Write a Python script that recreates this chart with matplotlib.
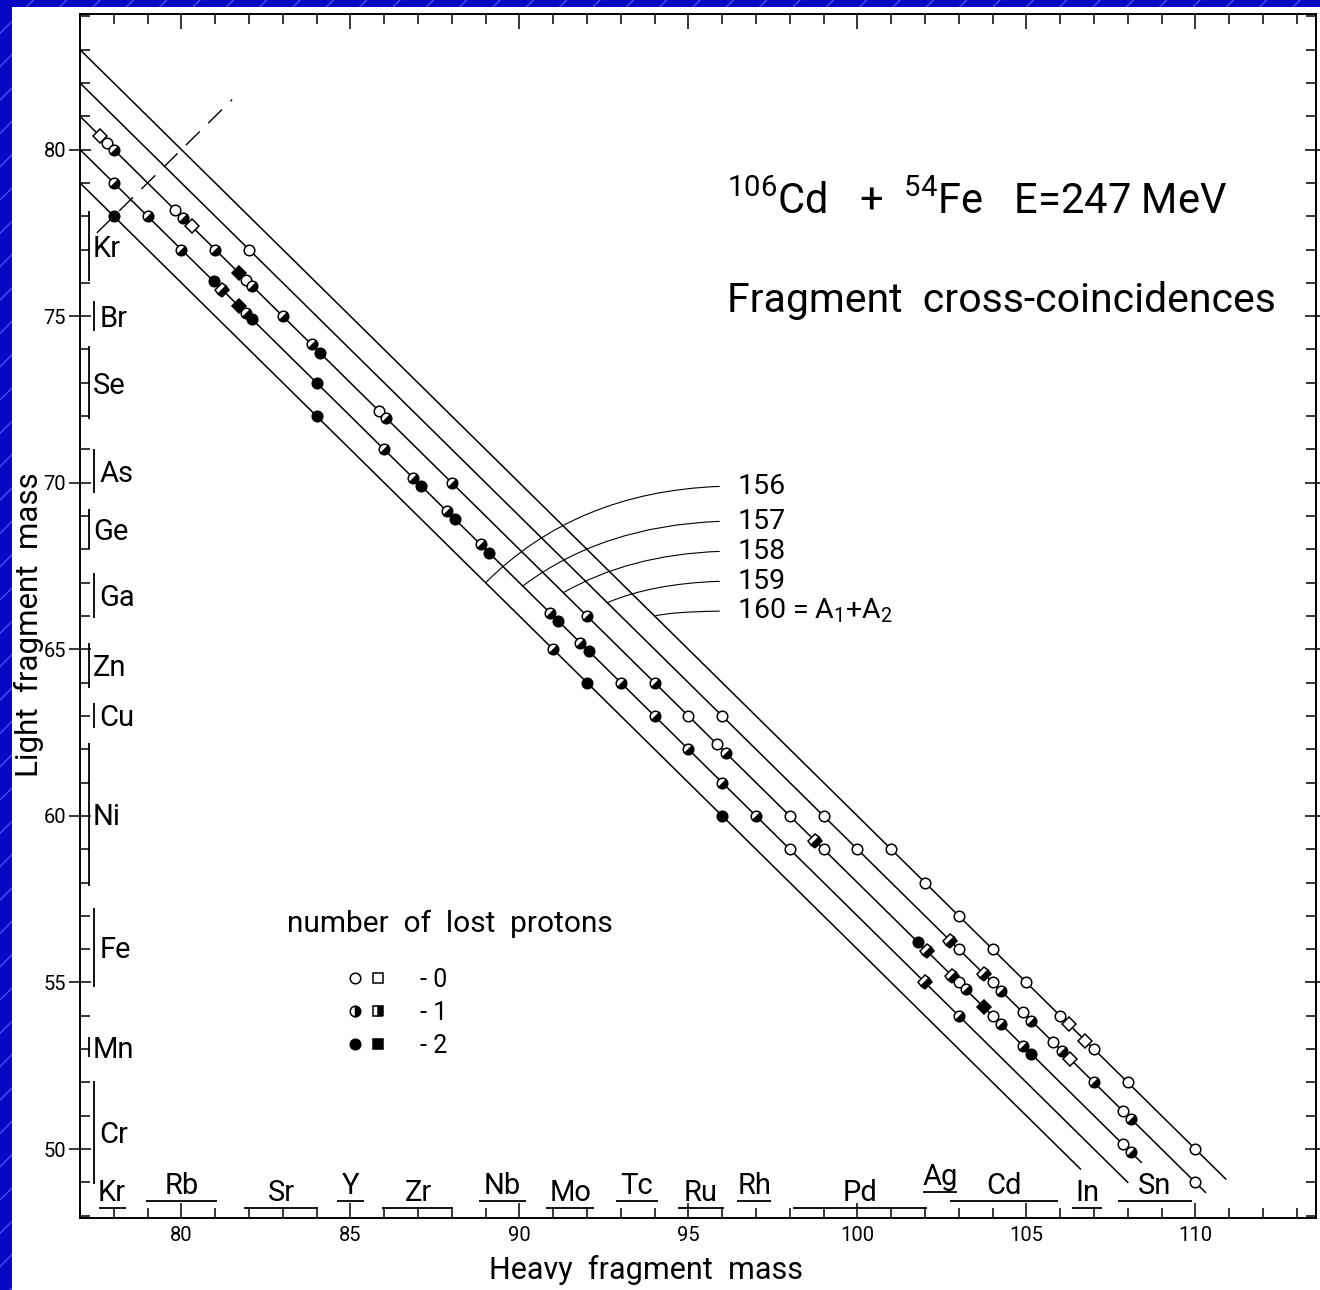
"""Fragment cross-coincidences, 106Cd + 54Fe at E = 247 MeV.
Light vs heavy fragment mass, with the lines of constant A1 + A2."""
import numpy as np
import matplotlib.pyplot as plt
from matplotlib.markers import MarkerStyle
from matplotlib.transforms import Affine2D
from matplotlib.lines import Line2D
from matplotlib.patches import Rectangle
from matplotlib.legend_handler import HandlerTuple
from matplotlib.ticker import MultipleLocator

plt.rcParams.update({'font.family': ['Roboto', 'DejaVu Sans'],
                     'mathtext.fontset': 'custom',
                     'mathtext.rm': 'Roboto',
                     'mathtext.it': 'Roboto',
                     'mathtext.bf': 'Roboto',
                     'hatch.linewidth': 1.0})

# lines of constant total mass A1 + A2 and the heavy mass where each stops
line_sums = [156, 157, 158, 159, 160]
line_end = [106.6, 108.0, 108.4, 110.3, 110.9]
# leader lines from the labels on the right down onto each line
label_y = [69.9, 68.85, 67.95, 67.05, 66.15]
leader_x = [89.0, 90.1, 91.3, 92.6, 94.0]
leader_ang = [45, 37, 30, 23, 14]
sym_range = [77.5, 81.5]   # A1 = A2

# coincidences: heavy mass, light mass, symbol, number of lost protons
heavy = [77.6, 77.8, 78.0, 78, 78, 79, 79.8, 80.05, 80.3, 80, 81, 82,
         80.95, 81.2, 81.7, 81.9, 82.1, 81.7, 81.9, 82.1, 83, 83.85, 84.1,
         84, 84, 85.85, 86.05, 86, 86.85, 87.1, 88, 87.85, 88.1, 88.85, 89.1,
         90.9, 91.15, 92, 91, 91.8, 92.05, 92, 93, 94, 94, 95, 96, 95,
         95.85, 96.1, 96, 96, 97, 98, 99, 98, 98.75, 99.0, 100, 101, 102, 103,
         102.75, 103.0, 101.8, 102.05, 104, 105, 102.8, 103.0, 103.2,
         103.75, 104.0, 104.25, 102, 103, 103.75, 104.0, 104.25, 104.9, 105.15,
         106, 106.25, 106.75, 107, 104.9, 105.15, 105.8, 106.05, 106.3,
         107, 108, 107.85, 108.1, 107.85, 108.1, 110, 110]
light = [80.4, 80.2, 80.0, 79, 78, 78, 78.2, 77.95, 77.7, 77, 77, 77,
         76.05, 75.8, 76.3, 76.1, 75.9, 75.3, 75.1, 74.9, 75, 74.15, 73.9,
         73, 72, 72.15, 71.95, 71, 70.15, 69.9, 70, 69.15, 68.9, 68.15, 67.9,
         66.1, 65.85, 66, 65, 65.2, 64.95, 64, 64, 64, 63, 63, 63, 62,
         62.15, 61.9, 61, 60, 60, 60, 60, 59, 59.25, 59.0, 59, 59, 58, 57,
         56.25, 56.0, 56.2, 55.95, 56, 55, 55.2, 55.0, 54.8,
         55.25, 55.0, 54.75, 55, 54, 54.25, 54.0, 53.75, 54.1, 53.85,
         54, 53.75, 53.25, 53, 53.1, 52.85, 53.2, 52.95, 52.7,
         52, 52, 51.15, 50.9, 50.15, 49.9, 50, 49]
shape = ['s', 'o', 'o', 'o', 'o', 'o', 'o', 'o', 's', 'o', 'o', 'o',
         'o', 's', 's', 'o', 'o', 's', 'o', 'o', 'o', 'o', 'o',
         'o', 'o', 'o', 'o', 'o', 'o', 'o', 'o', 'o', 'o', 'o', 'o',
         'o', 'o', 'o', 'o', 'o', 'o', 'o', 'o', 'o', 'o', 'o', 'o', 'o',
         'o', 'o', 'o', 'o', 'o', 'o', 'o', 'o', 's', 'o', 'o', 'o', 'o', 'o',
         's', 'o', 'o', 's', 'o', 'o', 's', 'o', 'o',
         's', 'o', 'o', 's', 'o', 's', 'o', 'o', 'o', 'o',
         'o', 's', 's', 'o', 'o', 'o', 'o', 'o', 's',
         'o', 'o', 'o', 'o', 'o', 'o', 'o', 'o']
lost = [0, 0, 1, 1, 2, 1, 0, 1, 0, 1, 1, 0,
        2, 1, 2, 0, 1, 2, 1, 2, 1, 1, 2,
        2, 2, 0, 1, 1, 1, 2, 1, 1, 2, 1, 2,
        1, 2, 1, 1, 1, 2, 2, 1, 1, 1, 0, 0, 1,
        0, 1, 1, 2, 1, 0, 0, 0, 1, 0, 0, 0, 0, 0,
        1, 0, 2, 1, 0, 0, 1, 0, 1,
        1, 0, 1, 1, 1, 2, 0, 1, 0, 1,
        0, 0, 0, 0, 1, 2, 0, 1, 0,
        1, 0, 0, 1, 0, 1, 0, 0]

# element ranges along the heavy-mass axis
heavy_el = ['Kr', 'Rb', 'Sr', 'Y', 'Zr', 'Nb', 'Mo', 'Tc', 'Ru', 'Rh',
            'Pd', 'Ag', 'Cd', 'In', 'Sn']
heavy_lo = [77.55, 78.95, 81.85, 84.6, 85.95, 88.8, 90.8, 92.85, 94.7,
            96.45, 98.1, 101.95, 102.75, 106.35, 107.7]
heavy_hi = [78.35, 81.05, 84.05, 85.4, 88.05, 90.2, 92.2, 94.1, 96.05,
            97.45, 102.05, 102.95, 105.95, 107.25, 109.9]
heavy_row = [0, 1, 0, 1, 0, 1, 0, 1, 0, 1, 0, 2, 1, 0, 1]
# element ranges along the light-mass axis
light_el = ['Kr', 'Br', 'Se', 'As', 'Ge', 'Ga', 'Zn', 'Cu', 'Ni', 'Fe',
            'Mn', 'Cr']
light_lo = [76.05, 74.55, 71.9, 69.7, 68.0, 65.95, 63.85, 62.65, 57.9,
            54.85, 52.75, 48.95]
light_hi = [78.15, 75.45, 74.1, 71.0, 69.2, 67.3, 65.2, 63.4, 62.2, 57.25,
            53.35, 52.05]
light_row = [0, 1, 0, 1, 0, 1, 0, 1, 0, 1, 0, 1]

legend_labels = ['- 0', '- 1', '- 2']

X0, X1 = 77, 113.57
Y0, Y1 = 47.93, 84.07
W, H = 1320, 1290

fig = plt.figure(figsize=(W / 100, H / 100), dpi=100)
# slide background: blue with light diagonal hatching, white sheet on top
fig.add_artist(Rectangle((0, 0), 1, 1, transform=fig.transFigure,
                         facecolor='#0808c4', edgecolor='#4c4cf2',
                         hatch='/', lw=0, zorder=-3))
fig.add_artist(Rectangle((12 / W, 0), 1, 1 - 7 / H, transform=fig.transFigure,
                         facecolor='white', lw=0, zorder=-2))

ax = fig.add_axes([80 / W, 72 / H, 1236 / W, 1204 / H])
ax.set_xlim(X0, X1)
ax.set_ylim(Y0, Y1)
for sp in ax.spines.values():
    sp.set_linewidth(1.4)

ax.xaxis.set_major_locator(MultipleLocator(5))
ax.xaxis.set_minor_locator(MultipleLocator(1))
ax.yaxis.set_major_locator(MultipleLocator(5))
ax.yaxis.set_minor_locator(MultipleLocator(1))
ax.tick_params(axis='x', which='both', direction='in', top=True, width=1.1)
ax.tick_params(axis='x', which='major', length=11, pad=6, labelsize=14.5)
ax.tick_params(axis='x', which='minor', length=7)
ax.tick_params(axis='y', which='both', right=True, width=1.1)
ax.tick_params(axis='y', which='major', direction='inout', length=16,
               pad=2, labelsize=14.5)
ax.tick_params(axis='y', which='minor', direction='in', length=7)

ax.set_xlabel('Heavy  fragment  mass', fontsize=22)
ax.set_ylabel('Light  fragment  mass', fontsize=22.5)
ax.xaxis.set_label_coords(0.458, -0.031)
ax.yaxis.set_label_coords(-0.029, 0.493)

# constant-mass lines and the symmetric split
for s, xe in zip(line_sums, line_end):
    xs = np.array([X0, xe])
    ax.plot(xs, s - xs, color='black', lw=1.1, zorder=2)
ax.plot(sym_range, sym_range, color='black', lw=1.0, dashes=(14, 8.5), zorder=2)

# labels for the lines with curved leaders
for i, s in enumerate(line_sums):
    txt = str(s) if i < len(line_sums) - 1 else f'{s} = A$_1$+A$_2$'
    ax.annotate(txt, xy=(leader_x[i], s - leader_x[i]), xytext=(96.45, label_y[i]),
                ha='left', va='center', fontsize=20.5,
                arrowprops=dict(arrowstyle='-', lw=0.8, color='black',
                                connectionstyle=f'angle3,angleA=0,angleB={leader_ang[i]}',
                                relpos=(0, 0.5), patchA=None, shrinkA=13, shrinkB=0))


def marker_for(sym, n, tilt):
    fill = 'right' if n == 1 else 'full'
    tr = Affine2D().rotate_deg(-45) if tilt else None
    return MarkerStyle(sym, fillstyle=fill, transform=tr)


def face_for(n):
    return 'white' if n == 0 else 'black'


size = {'o': 7.6, 's': 7.2}
heavy_a, light_a = np.array(heavy), np.array(light)
shape_a, lost_a = np.array(shape), np.array(lost)
for sym in ['o', 's']:
    for n in [0, 1, 2]:
        m = (shape_a == sym) & (lost_a == n)
        if m.any():
            ax.plot(heavy_a[m], light_a[m], ls='none', marker=marker_for(sym, n, True),
                    ms=size[sym], mfc=face_for(n), mfcalt='white', mec='black',
                    mew=1.1, zorder=4)

# element ranges on both axes
row_y = [48.23, 48.44, 48.71]
for name, lo, hi, r in zip(heavy_el, heavy_lo, heavy_hi, heavy_row):
    ax.hlines(row_y[r], lo, hi, color='black', lw=1.3)
    ax.text((lo + hi) / 2, row_y[r] + 0.2, name, ha='center', va='baseline', fontsize=21)
col_x = [77.26, 77.42]
lab_x = [77.38, 77.58]
for name, lo, hi, r in zip(light_el, light_lo, light_hi, light_row):
    ax.vlines(col_x[r], lo, hi, color='black', lw=1.3)
    ax.text(lab_x[r], (lo + hi) / 2, name, ha='left', va='center_baseline', fontsize=21)

# reaction and title
ax.text(0.5235, 0.834, r'$^{106}$Cd   +  $^{54}$Fe   E=247 MeV', transform=ax.transAxes,
        fontsize=30, va='baseline')
ax.text(0.5235, 0.7525, 'Fragment  cross-coincidences', transform=ax.transAxes,
        fontsize=29.5, va='baseline')

# key for the symbols
ax.text(0.1675, 0.2375, 'number  of  lost  protons', transform=ax.transAxes,
        fontsize=21.5, va='baseline')
handles = []
for n in [0, 1, 2]:
    c = Line2D([], [], ls='none', marker=marker_for('o', n, False), ms=7.6,
               mfc=face_for(n), mfcalt='white', mec='black', mew=1.1)
    q = Line2D([], [], ls='none', marker=marker_for('s', n, False), ms=7.0,
               mfc=face_for(n), mfcalt='white', mec='black', mew=1.1)
    handles.append((c, q))
ax.legend(handles, legend_labels, handler_map={tuple: HandlerTuple(ndivide=None, pad=0)},
          loc='upper left', bbox_to_anchor=(0.2132, 0.208), frameon=False,
          borderpad=0, borderaxespad=0, handlelength=1.85, handletextpad=1.2,
          labelspacing=0.36, prop={'size': 18})

fig.savefig('out.png', dpi=100)
